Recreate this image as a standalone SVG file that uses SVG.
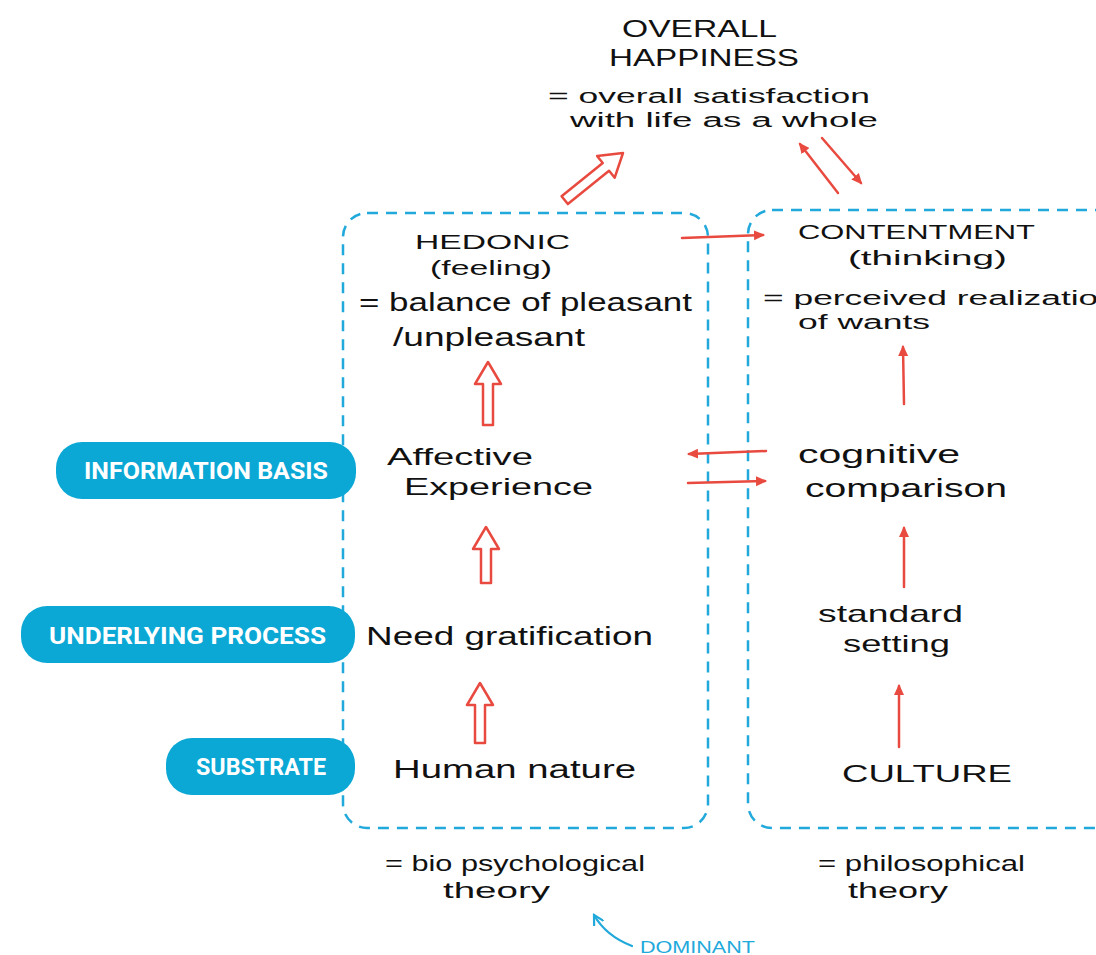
<svg xmlns="http://www.w3.org/2000/svg" width="1096" height="955" viewBox="0 0 1096 955">
  <style>
    .hand { font-family: "Liberation Sans", "DejaVu Sans", sans-serif; fill: #111; }
    .pill { fill: #0BA8D5; }
    .pilltxt { font-family: Roboto, "Liberation Sans", sans-serif; font-weight: bold; fill: #fff; }
    .frame { fill: none; stroke: #22A9DB; stroke-width: 2.5; stroke-dasharray: 11 8; }
    .thin { fill: none; stroke: #E84A3F; stroke-width: 2.5; stroke-linecap: round; marker-end: url(#head); }
    .block { fill: #fff; stroke: #E84A3F; stroke-width: 2.5; stroke-linejoin: round; }
    .note { font-family: "Liberation Sans", sans-serif; fill: #22A9DB; }
  </style>
  <defs>
    <marker id="head" viewBox="0 0 12 12" refX="9" refY="6" markerWidth="12" markerHeight="12" markerUnits="userSpaceOnUse" orient="auto">
      <path d="M0,1 L11,6 L0,11 Z" fill="#E84A3F"/>
    </marker>
    <marker id="bluehead" viewBox="0 0 12 12" refX="10" refY="6" markerWidth="12" markerHeight="12" markerUnits="userSpaceOnUse" orient="auto">
      <path d="M1,1 L10,6 L1,11" fill="none" stroke="#22A9DB" stroke-width="2.2" stroke-linecap="round"/>
    </marker>
  </defs>

  <rect width="1096" height="955" fill="#fff"/>

  <!-- dashed frames for the two theories -->
  <g id="frames">
    <rect class="frame" x="343" y="213" width="365" height="615" rx="24"/>
    <rect class="frame" x="748" y="210" width="400" height="618" rx="24"/>
  </g>

  <!-- overall happiness heading -->
  <g id="overall">
    <text class="hand" x="622" y="37" font-size="24" textLength="155" lengthAdjust="spacingAndGlyphs">OVERALL</text>
    <text class="hand" x="609" y="66" font-size="24" textLength="190" lengthAdjust="spacingAndGlyphs">HAPPINESS</text>
    <text class="hand" x="548" y="103" font-size="20" textLength="322" lengthAdjust="spacingAndGlyphs">= overall satisfaction</text>
    <text class="hand" x="570" y="127" font-size="20" textLength="308" lengthAdjust="spacingAndGlyphs">with life as a whole</text>
  </g>

  <!-- hedonic column -->
  <g id="hedonic">
    <text class="hand" x="415" y="249" font-size="21" textLength="155" lengthAdjust="spacingAndGlyphs">HEDONIC</text>
    <text class="hand" x="430" y="275" font-size="21" textLength="122" lengthAdjust="spacingAndGlyphs">(feeling)</text>
    <text class="hand" x="359" y="311" font-size="25" textLength="333" lengthAdjust="spacingAndGlyphs">= balance of pleasant</text>
    <text class="hand" x="393" y="346" font-size="25" textLength="192" lengthAdjust="spacingAndGlyphs">/unpleasant</text>
  </g>
  <g id="affective">
    <text class="hand" x="387" y="465" font-size="24" textLength="146" lengthAdjust="spacingAndGlyphs">Affective</text>
    <text class="hand" x="404" y="495" font-size="24" textLength="189" lengthAdjust="spacingAndGlyphs">Experience</text>
  </g>
  <g id="need">
    <text class="hand" x="366" y="645" font-size="26" textLength="287" lengthAdjust="spacingAndGlyphs">Need gratification</text>
  </g>
  <g id="human">
    <text class="hand" x="393" y="778" font-size="26" textLength="243" lengthAdjust="spacingAndGlyphs">Human nature</text>
  </g>
  <g id="bio">
    <text class="hand" x="385" y="871" font-size="22" textLength="260" lengthAdjust="spacingAndGlyphs">= bio psychological</text>
    <text class="hand" x="443" y="898" font-size="22" textLength="107" lengthAdjust="spacingAndGlyphs">theory</text>
  </g>

  <!-- contentment column -->
  <g id="contentment">
    <text class="hand" x="798" y="239" font-size="21" textLength="237" lengthAdjust="spacingAndGlyphs">CONTENTMENT</text>
    <text class="hand" x="848" y="265" font-size="21" textLength="159" lengthAdjust="spacingAndGlyphs">(thinking)</text>
    <text class="hand" x="763" y="305" font-size="20" textLength="355" lengthAdjust="spacingAndGlyphs">= perceived realization</text>
    <text class="hand" x="798" y="329" font-size="20" textLength="132" lengthAdjust="spacingAndGlyphs">of wants</text>
  </g>
  <g id="cognitive">
    <text class="hand" x="798" y="463" font-size="25" textLength="162" lengthAdjust="spacingAndGlyphs">cognitive</text>
    <text class="hand" x="805" y="497" font-size="25" textLength="202" lengthAdjust="spacingAndGlyphs">comparison</text>
  </g>
  <g id="standard">
    <text class="hand" x="818" y="622" font-size="24" textLength="145" lengthAdjust="spacingAndGlyphs">standard</text>
    <text class="hand" x="843" y="652" font-size="24" textLength="107" lengthAdjust="spacingAndGlyphs">setting</text>
  </g>
  <g id="culture">
    <text class="hand" x="842" y="782" font-size="24" textLength="170" lengthAdjust="spacingAndGlyphs">CULTURE</text>
  </g>
  <g id="philosophical">
    <text class="hand" x="818" y="871" font-size="22" textLength="207" lengthAdjust="spacingAndGlyphs">= philosophical</text>
    <text class="hand" x="848" y="898" font-size="22" textLength="100" lengthAdjust="spacingAndGlyphs">theory</text>
  </g>

  <!-- level labels -->
  <g id="info-basis">
    <rect class="pill" x="56" y="442" width="300" height="57" rx="26"/>
    <text class="pilltxt" x="84" y="479" font-size="24" textLength="244" lengthAdjust="spacingAndGlyphs">INFORMATION BASIS</text>
  </g>
  <g id="underlying-process">
    <rect class="pill" x="21" y="606" width="334" height="57" rx="26"/>
    <text class="pilltxt" x="49" y="644" font-size="24" textLength="277" lengthAdjust="spacingAndGlyphs">UNDERLYING PROCESS</text>
  </g>
  <g id="substrate">
    <rect class="pill" x="166" y="738" width="189" height="57" rx="26"/>
    <text class="pilltxt" x="196" y="775" font-size="24" textLength="130" lengthAdjust="spacingAndGlyphs">SUBSTRATE</text>
  </g>

  <!-- connectors -->
  <g id="connectors">
    <!-- hollow block arrows -->
    <path class="block" transform="translate(623,153) rotate(51)" d="M0,0 L14,22 L5,22 L5,75 L-5,75 L-5,22 L-14,22 Z"/>
    <path class="block" transform="translate(488,362)" d="M0,0 L13,22 L5,22 L5,63 L-5,63 L-5,22 L-13,22 Z"/>
    <path class="block" transform="translate(486,527)" d="M0,0 L13,22 L5,22 L5,56 L-5,56 L-5,22 L-13,22 Z"/>
    <path class="block" transform="translate(480,683)" d="M0,0 L13,22 L5,22 L5,60 L-5,60 L-5,22 L-13,22 Z"/>
    <!-- thin arrows -->
    <line class="thin" x1="838" y1="193" x2="800" y2="144"/>
    <line class="thin" x1="822" y1="138" x2="861" y2="183"/>
    <line class="thin" x1="682" y1="238" x2="763" y2="235"/>
    <line class="thin" x1="766" y1="451" x2="689" y2="454"/>
    <line class="thin" x1="688" y1="483" x2="765" y2="481"/>
    <line class="thin" x1="904" y1="404" x2="903" y2="347"/>
    <line class="thin" x1="904" y1="587" x2="904" y2="528"/>
    <line class="thin" x1="899" y1="747" x2="899" y2="686"/>
  </g>

  <!-- annotation -->
  <g id="dominant">
    <path d="M632,946 Q606,936 594,915" fill="none" stroke="#22A9DB" stroke-width="2.2" stroke-linecap="round" marker-end="url(#bluehead)"/>
    <text class="note" x="640" y="953" font-size="16" textLength="115" lengthAdjust="spacingAndGlyphs">DOMINANT</text>
  </g>
</svg>
